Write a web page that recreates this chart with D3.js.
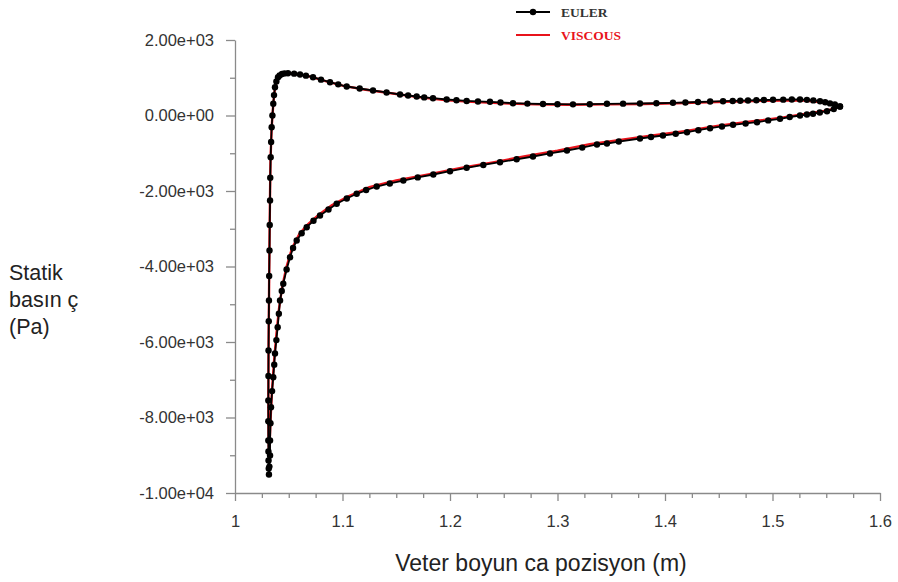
<!DOCTYPE html>
<html><head><meta charset="utf-8">
<script src="https://cdn.jsdelivr.net/npm/d3@7"></script>
<style>
html,body{margin:0;padding:0;background:#fff;}
svg{display:block;}
</style></head>
<body>
<svg id="chart" width="898" height="582"></svg>
<script>
// ---- data ----
const eulerX = [1.5628,1.5580,1.5535,1.5490,1.5442,1.5380,1.5320,1.5256,1.5180,1.5100,1.5005,1.4920,1.4850,1.4772,1.4700,1.4630,1.4540,1.4420,1.4307,1.4190,1.4074,1.3920,1.3767,1.3610,1.3460,1.3300,1.3144,1.3000,1.2865,1.2720,1.2586,1.2470,1.2372,1.2260,1.2155,1.2060,1.1969,1.1842,1.1760,1.1690,1.1610,1.1535,1.1410,1.1284,1.1160,1.1039,1.0960,1.0884,1.0800,1.0726,1.0660,1.0605,1.0550,1.0493,1.0460,1.0437,1.0415,1.0400,1.0385,1.0372,1.0363,1.0356,1.0348,1.0341,1.0336,1.0332,1.0328,1.0326,1.0323,1.0321,1.0318,1.0316,1.0314,1.0312,1.0311,1.0310,1.0310,1.0310,1.0311,1.0312,1.0314,1.0316,
1.0320,1.0326,1.0326,1.0330,1.0335,1.0345,1.0356,1.0365,1.0372,1.0385,1.0397,1.0408,1.0419,1.0435,1.0449,1.0480,1.0512,1.0540,1.0574,1.0620,1.0667,1.0730,1.0791,1.0870,1.0946,1.1040,1.1132,1.1220,1.1318,1.1440,1.1566,1.1700,1.1845,1.2000,1.2155,1.2310,1.2465,1.2620,1.2772,1.2930,1.3088,1.3230,1.3367,1.3460,1.3570,1.3767,1.3870,1.3981,1.4100,1.4205,1.4310,1.4419,1.4530,1.4633,1.4750,1.4856,1.4960,1.5070,1.5160,1.5256,1.5320,1.5377,1.5440,1.5507,1.5570,1.5628];
const eulerY = [238,290,320,350,379,400,415,424,425,420,416,410,405,397,392,386,379,370,358,345,336,325,318,314,310,300,295,300,305,315,326,345,363,372,385,405,424,458,480,503,530,556,610,662,715,768,825,882,950,1015,1055,1086,1108,1120,1115,1099,1060,1015,900,750,540,310,0,-310,-700,-1105,-1650,-2252,-2900,-3576,-4250,-4900,-5450,-6225,-6900,-7550,-8100,-8609,-8900,-9139,-9350,-9510,
-9300,-9007,-8609,-8150,-7727,-7300,-6932,-6600,-6305,-5950,-5608,-5250,-4901,-4650,-4458,-4080,-3754,-3510,-3311,-3120,-2959,-2790,-2649,-2490,-2339,-2200,-2074,-1975,-1881,-1800,-1722,-1640,-1563,-1475,-1385,-1310,-1237,-1160,-1086,-1005,-927,-850,-768,-742,-690,-609,-570,-530,-485,-442,-390,-336,-290,-246,-210,-177,-130,-87,-40,0,25,45,80,114,170,238];

const viscousX = [1.5620,1.5540,1.5440,1.5300,1.5100,1.4900,1.4650,1.4400,1.4100,1.3800,1.3450,1.3100,1.2800,1.2500,1.2200,1.1950,1.1700,1.1450,1.1200,1.1000,1.0850,1.0700,1.0600,1.0500,1.0440,1.0400,1.0372,1.0356,1.0341,1.0330,1.0325,1.0320,1.0316,1.0312,1.0310,1.0312,1.0316,1.0322,1.0330,1.0345,1.0362,1.0385,1.0410,1.0440,1.0480,1.0530,1.0600,1.0680,1.0780,1.0900,1.1050,1.1250,1.1500,1.1800,1.2100,1.2400,1.2700,1.3000,1.3300,1.3600,1.3900,1.4200,1.4500,1.4800,1.5100,1.5300,1.5500,1.5620];
const viscousY = [220,300,355,395,398,388,368,350,325,305,295,285,295,320,360,410,490,590,690,790,905,1030,1090,1115,1095,1010,740,300,-320,-1200,-2300,-3600,-4900,-6200,-7500,-8500,-9000,-8700,-8100,-7250,-6550,-5800,-5100,-4520,-4000,-3520,-3130,-2880,-2630,-2380,-2150,-1900,-1720,-1560,-1390,-1240,-1080,-930,-760,-640,-520,-410,-270,-160,-50,40,130,220];

const xTicks = [1, 1.1, 1.2, 1.3, 1.4, 1.5, 1.6];
const xTickLabels = ["1", "1.1", "1.2", "1.3", "1.4", "1.5", "1.6"];
const yTicks = [2000, 0, -2000, -4000, -6000, -8000, -10000];
const yTickLabels = ["2.00e+03", "0.00e+00", "-2.00e+03", "-4.00e+03", "-6.00e+03", "-8.00e+03", "-1.00e+04"];
const seriesNames = ["EULER", "VISCOUS"];
const xTitle = "Veter boyun ca pozisyon (m)";
const yTitleLines = ["Statik", "basın ç", "(Pa)"];

// ---- layout ----
const svg = d3.select("#chart");
const plotLeft = 235, plotRight = 880, plotTop = 40, plotBottom = 493;
const x = d3.scaleLinear().domain([1, 1.6]).range([plotLeft, plotRight]);
const y = d3.scaleLinear().domain([-10000, 2000]).range([plotBottom, plotTop]);
const axisColor = "#8a8a8a";
const labelColor = "#333";

// minor ticks
const xMinor = d3.range(0, 25).map(i => 1 + i * 0.025).filter(v => Math.abs(v*10 - Math.round(v*10)) > 1e-6);
const yMinor = [1000, -1000, -3000, -5000, -7000, -9000];

svg.append("g").attr("transform", `translate(0,${plotBottom})`)
  .call(d3.axisBottom(x).tickValues(xTicks).tickFormat((d,i) => xTickLabels[i]).tickSize(8).tickSizeOuter(0).tickPadding(14));
svg.append("g").attr("transform", `translate(0,${plotBottom})`)
  .call(d3.axisBottom(x).tickValues(xMinor).tickFormat("").tickSize(5).tickSizeOuter(0))
  .select(".domain").remove();
svg.append("g").attr("transform", `translate(${plotLeft},0)`)
  .call(d3.axisLeft(y).tickValues(yTicks).tickFormat((d,i) => yTickLabels[i]).tickSize(9).tickSizeOuter(0).tickPadding(12));
svg.append("g").attr("transform", `translate(${plotLeft},0)`)
  .call(d3.axisLeft(y).tickValues(yMinor).tickFormat("").tickSize(5).tickSizeOuter(0))
  .select(".domain").remove();

svg.selectAll(".domain, .tick line").attr("stroke", axisColor).attr("stroke-width", 1.3);
svg.selectAll(".tick text").attr("fill", labelColor)
  .style("font-family", "'Liberation Sans', Arial, sans-serif").style("font-size", "16.5px");

// ---- series ----
const euler = eulerX.map((v, i) => [v, eulerY[i]]);
const viscous = viscousX.map((v, i) => [v, viscousY[i]]);
const line = d3.line().x(d => x(d[0])).y(d => y(d[1]));

svg.append("path").datum(viscous).attr("d", line)
  .attr("fill", "none").attr("stroke", "#e8131b").attr("stroke-width", 2.4);
svg.append("path").datum(euler).attr("d", line)
  .attr("fill", "none").attr("stroke", "#000").attr("stroke-width", 1.8);
svg.append("g").selectAll("circle").data(euler).join("circle")
  .attr("cx", d => x(d[0])).attr("cy", d => y(d[1])).attr("r", 3.2).attr("fill", "#000");

// ---- legend ----
const lg = svg.append("g");
lg.append("line").attr("x1", 516).attr("x2", 550).attr("y1", 12).attr("y2", 12).attr("stroke", "#000").attr("stroke-width", 1.8);
lg.append("circle").attr("cx", 533).attr("cy", 12).attr("r", 3.2).attr("fill", "#000");
lg.append("text").attr("x", 561).attr("y", 16.5).text(seriesNames[0])
  .attr("fill", "#333").style("font-family", "'Liberation Serif', 'Times New Roman', serif").style("font-weight", "bold").style("font-size", "13.5px");
lg.append("line").attr("x1", 516).attr("x2", 550).attr("y1", 35).attr("y2", 35).attr("stroke", "#e8131b").attr("stroke-width", 1.8);
lg.append("text").attr("x", 561).attr("y", 39.5).text(seriesNames[1])
  .attr("fill", "#e8131b").style("font-family", "'Liberation Serif', 'Times New Roman', serif").style("font-weight", "bold").style("font-size", "13.5px");

// ---- titles ----
svg.append("text").attr("x", 541).attr("y", 571).attr("text-anchor", "middle").text(xTitle)
  .attr("fill", "#222").style("font-family", "'Liberation Sans', Arial, sans-serif").style("font-size", "23px");
const yt = svg.append("text").attr("fill", "#222").style("font-family", "'Liberation Sans', Arial, sans-serif").style("font-size", "21.5px");
yTitleLines.forEach((t, i) => {
  yt.append("tspan").attr("x", 9).attr("y", 280 + i * 27).text(t);
});
</script>
</body></html>
